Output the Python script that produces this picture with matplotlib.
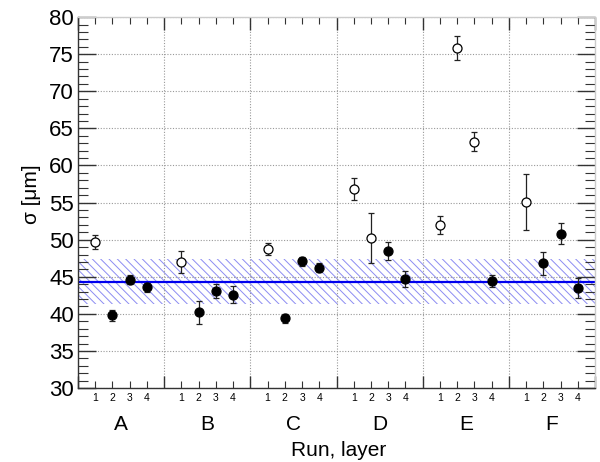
import numpy as np
import matplotlib.pyplot as plt
from matplotlib.ticker import FixedLocator, MultipleLocator

plt.rcParams["font.family"] = ["Liberation Sans", "DejaVu Sans"]
plt.rcParams["hatch.linewidth"] = 0.7

RUNS = ["A", "B", "C", "D", "E", "F"]
LAYERS = [1, 2, 3, 4]

# sigma [um] per run (rows) and layer (columns), with errors
SIGMA = [
    [49.7, 39.8, 44.6, 43.6],
    [47.0, 40.2, 43.1, 42.6],
    [48.7, 39.4, 47.1, 46.2],
    [56.8, 50.2, 48.5, 44.7],
    [52.0, 75.8, 63.2, 44.4],
    [55.1, 46.8, 50.8, 43.5],
]
SIGMA_ERR = [
    [0.9, 0.7, 0.6, 0.6],
    [1.5, 1.5, 0.9, 1.2],
    [0.8, 0.6, 0.6, 0.6],
    [1.5, 3.4, 1.2, 1.1],
    [1.2, 1.6, 1.3, 0.8],
    [3.8, 1.5, 1.4, 1.35],
]
# open markers = excluded from the average
EXCLUDED = [
    [True, False, False, False],
    [True, False, False, False],
    [True, False, False, False],
    [True, True, False, False],
    [True, True, True, False],
    [True, False, False, False],
]

MEAN = 44.35
MEAN_ERR = 3.07

GROUP = len(LAYERS) + 1


def main():
    fig = plt.figure(figsize=(6.0, 4.62), dpi=100)
    ax = fig.add_axes([0.13, 0.16, 0.8617, 0.803])

    xmax = GROUP * len(RUNS)
    ax.set_xlim(0, xmax)
    ax.set_ylim(30, 80)

    # average with uncertainty band
    ax.fill_between([0, xmax], MEAN - MEAN_ERR, MEAN + MEAN_ERR, facecolor="none",
                    edgecolor="#8c8cf2", hatch="\\\\\\\\", linewidth=0, zorder=1)
    ax.axhline(MEAN, color="#0000ee", linewidth=1.6, zorder=2)

    for i, run in enumerate(RUNS):
        for j, layer in enumerate(LAYERS):
            x = i * GROUP + layer
            face = "white" if EXCLUDED[i][j] else "black"
            ax.errorbar(x, SIGMA[i][j], yerr=SIGMA_ERR[i][j], fmt="o", ms=6.5,
                        mfc=face, mec="black", mew=0.9, ecolor="#222222",
                        elinewidth=0.9, capsize=2, capthick=0.9, zorder=4)

    # ticks: majors at group boundaries, minors at layers
    bounds = [i * GROUP for i in range(len(RUNS) + 1)]
    layer_pos = [i * GROUP + l for i in range(len(RUNS)) for l in LAYERS]
    ax.xaxis.set_major_locator(FixedLocator(bounds))
    ax.xaxis.set_minor_locator(FixedLocator(layer_pos))
    ax.set_xticklabels([])
    ax.yaxis.set_major_locator(MultipleLocator(5))
    ax.yaxis.set_minor_locator(MultipleLocator(1))
    ax.tick_params(axis="both", which="both", direction="in", top=True, right=True,
                   color="#333333")
    ax.tick_params(axis="x", which="major", length=9, width=1)
    ax.tick_params(axis="x", which="minor", length=5, width=0.8)
    ax.tick_params(axis="y", which="major", length=13, width=1, labelsize=16, pad=3)
    ax.tick_params(axis="y", which="minor", length=7, width=0.8)

    ax.grid(True, which="major", linestyle=(0, (1, 1.5)), color="#999999", linewidth=0.8)
    for s in ax.spines.values():
        s.set_color("#333333")
        s.set_linewidth(1.0)
    ax.spines["top"].set_color("#cccccc")
    ax.spines["right"].set_color("#cccccc")

    # layer and run labels
    for p in layer_pos:
        ax.text(p, -0.012, str((p % GROUP)), transform=ax.get_xaxis_transform(),
                ha="center", va="top", fontsize=7.5)
    for i, run in enumerate(RUNS):
        ax.text(i * GROUP + GROUP / 2, -0.072, run, transform=ax.get_xaxis_transform(),
                ha="center", va="top", fontsize=15)

    fig.text(0.565, 0.025, "Run, layer", ha="center", va="center", fontsize=15)
    fig.text(0.052, 0.58, "σ [μm]", ha="center", va="center", rotation=90, fontsize=15)

    fig.savefig("out.png", dpi=100)
    plt.close(fig)


if __name__ == "__main__":
    main()
